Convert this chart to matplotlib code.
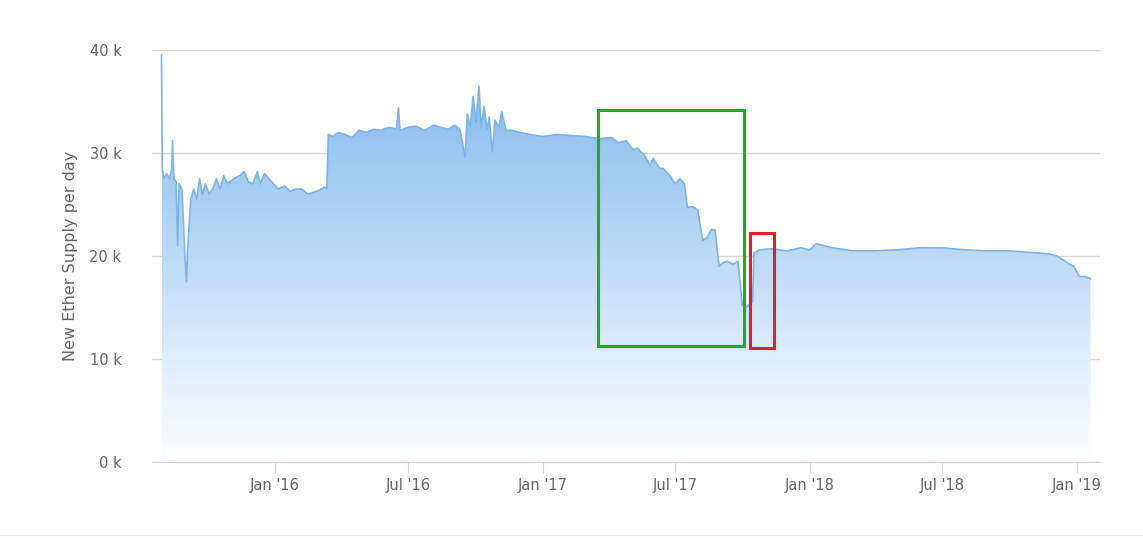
import matplotlib
matplotlib.use("Agg")
import matplotlib.pyplot as plt
import matplotlib.dates as mdates
import numpy as np
import pandas as pd
from matplotlib.patches import Rectangle, Polygon

dates = ["2015-07-30","2015-07-31","2015-08-02","2015-08-06","2015-08-10","2015-08-13","2015-08-14","2015-08-16",
"2015-08-19","2015-08-21","2015-08-23","2015-08-27","2015-08-31","2015-09-02","2015-09-04","2015-09-08","2015-09-12",
"2015-09-16","2015-09-20","2015-09-24","2015-09-28","2015-10-03","2015-10-08","2015-10-13","2015-10-18","2015-10-23",
"2015-10-28","2015-11-02","2015-11-08","2015-11-14","2015-11-20","2015-11-26","2015-12-02","2015-12-08","2015-12-12",
"2015-12-18","2015-12-24","2015-12-30","2016-01-06","2016-01-14","2016-01-22","2016-01-30","2016-02-07","2016-02-15",
"2016-02-23","2016-03-02","2016-03-09","2016-03-12","2016-03-14","2016-03-20","2016-03-28","2016-04-06","2016-04-15",
"2016-04-25","2016-05-05","2016-05-15","2016-05-25","2016-06-05","2016-06-15","2016-06-18","2016-06-20","2016-07-01",
"2016-07-12","2016-07-24","2016-08-05","2016-08-15","2016-08-25","2016-09-03","2016-09-10","2016-09-17","2016-09-20",
"2016-09-24","2016-09-28","2016-10-02","2016-10-06","2016-10-09","2016-10-13","2016-10-17","2016-10-20","2016-10-24",
"2016-10-28","2016-11-02","2016-11-06","2016-11-12","2016-11-20","2016-12-01","2016-12-15","2017-01-01","2017-01-20",
"2017-02-10","2017-03-01","2017-03-20","2017-04-05","2017-04-15","2017-04-25","2017-05-05","2017-05-10","2017-05-20",
"2017-05-28","2017-06-01","2017-06-10","2017-06-15","2017-06-25","2017-07-01","2017-07-08","2017-07-14","2017-07-18",
"2017-07-25","2017-08-01","2017-08-08","2017-08-14","2017-08-20","2017-08-25","2017-08-30","2017-09-04","2017-09-10",
"2017-09-18","2017-09-25","2017-10-01","2017-10-06","2017-10-11","2017-10-15","2017-10-17","2017-10-25","2017-11-10",
"2017-12-01","2017-12-20","2018-01-01","2018-01-10","2018-02-01","2018-03-01","2018-04-01","2018-05-01","2018-06-01",
"2018-07-01","2018-08-01","2018-09-01","2018-10-01","2018-10-20","2018-11-10","2018-11-25","2018-12-05","2018-12-12",
"2018-12-20","2018-12-28","2019-01-05","2019-01-12","2019-01-20"]
supply = [39.5,28.5,27.5,28,27.5,28.5,31.2,27.5,
27.2,21.0,27,26.5,20,17.5,21,25.5,26.5,
25.5,27.5,26,27,26,26.5,27.5,26.5,27.8,
27,27.3,27.6,27.8,28.2,27.2,27,28.2,27,
28,27.5,27,26.5,26.8,26.3,26.5,26.5,26,
26.2,26.4,26.7,26.5,31.8,31.6,32,31.8,31.5,
32.2,32,32.3,32.2,32.5,32.3,34.4,32.2,32.5,
32.6,32.2,32.7,32.5,32.3,32.7,32.3,29.6,33.8,
32.5,35.5,33,36.5,32.5,34.5,32.3,33.5,30.1,
33.2,32.5,34,32.2,32.2,32,31.8,31.6,31.8,
31.7,31.6,31.4,31.5,31,31.2,30.3,30.5,29.8,
28.8,29.5,28.5,28.5,27.7,27,27.5,27,24.7,
24.8,24.5,21.5,21.8,22.6,22.5,19,19.3,19.5,
19.2,19.5,15.2,15,15.3,15.5,20.3,20.6,20.7,
20.5,20.8,20.6,21.2,20.8,20.5,20.5,20.6,20.8,
20.8,20.6,20.5,20.5,20.4,20.3,20.2,20.0,19.7,
19.3,19.0,18.0,18.0,17.8]
supply = [v*1000 for v in supply]

x = pd.to_datetime(dates)
xn = mdates.date2num(x)
y = np.array(supply)

fig = plt.figure(figsize=(11.43,5.38), dpi=100)
ax = fig.add_axes([152/1143, 76/538, 948/1143, 412/538])
ax.set_xlim(mdates.date2num(pd.Timestamp("2015-07-17")), mdates.date2num(pd.Timestamp("2019-02-02")))
ax.set_ylim(0, 40000)

grad = np.linspace(0, 1, 256).reshape(-1, 1)
from matplotlib.colors import LinearSegmentedColormap
cmap = LinearSegmentedColormap.from_list("g", [(1,1,1,1), (124/255,181/255,236/255,1)])
im = ax.imshow(grad, aspect="auto", cmap=cmap, extent=[xn[0], xn[-1], 0, 40000], origin="lower", zorder=1)
poly = Polygon(np.column_stack([np.r_[xn[0], xn, xn[-1]], np.r_[0, y, 0]]), closed=True, facecolor="none", edgecolor="none")
ax.add_patch(poly)
im.set_clip_path(poly)
ax.plot(xn, y, color="#7cb5ec", lw=1.2, zorder=3)

ax.set_yticks([0,10000,20000,30000,40000])
ax.set_yticklabels(["0 k","10 k","20 k","30 k","40 k"])
ticks = ["2016-01-01","2016-07-01","2017-01-01","2017-07-01","2018-01-01","2018-07-01","2019-01-01"]
labels = ["Jan '16","Jul '16","Jan '17","Jul '17","Jan '18","Jul '18","Jan '19"]
ax.set_xticks(mdates.date2num(pd.to_datetime(ticks)))
ax.set_xticklabels(labels)
ax.grid(axis="y", color="#d8d8d8", lw=1, zorder=0)
ax.set_axisbelow(True)
for s in ["top","right","left"]:
    ax.spines[s].set_visible(False)
ax.spines["bottom"].set_color("#ccd6eb")
ax.tick_params(axis="y", length=0, labelsize=10.5, labelcolor="#666666", pad=22)
ax.tick_params(axis="x", length=8, color="#ccd6eb", labelsize=10.5, labelcolor="#666666")
ax.set_ylabel("New Ether Supply per day", fontsize=11.5, color="#666666", labelpad=8)

def rect(d0, d1, y0, y1, c):
    a = mdates.date2num(pd.Timestamp(d0)); b = mdates.date2num(pd.Timestamp(d1))
    ax.add_patch(Rectangle((a, y0), b-a, y1-y0, fill=False, edgecolor=c, lw=2.2, zorder=5))
rect("2017-03-18", "2017-10-03", 11300, 34200, "#22aa22")
rect("2017-10-11", "2017-11-13", 11100, 22200, "#dd2222")

fig.add_artist(plt.Line2D([0,1],[3/538,3/538], color="#e6e6e6", lw=1))
fig.savefig("out.png", dpi=100)
